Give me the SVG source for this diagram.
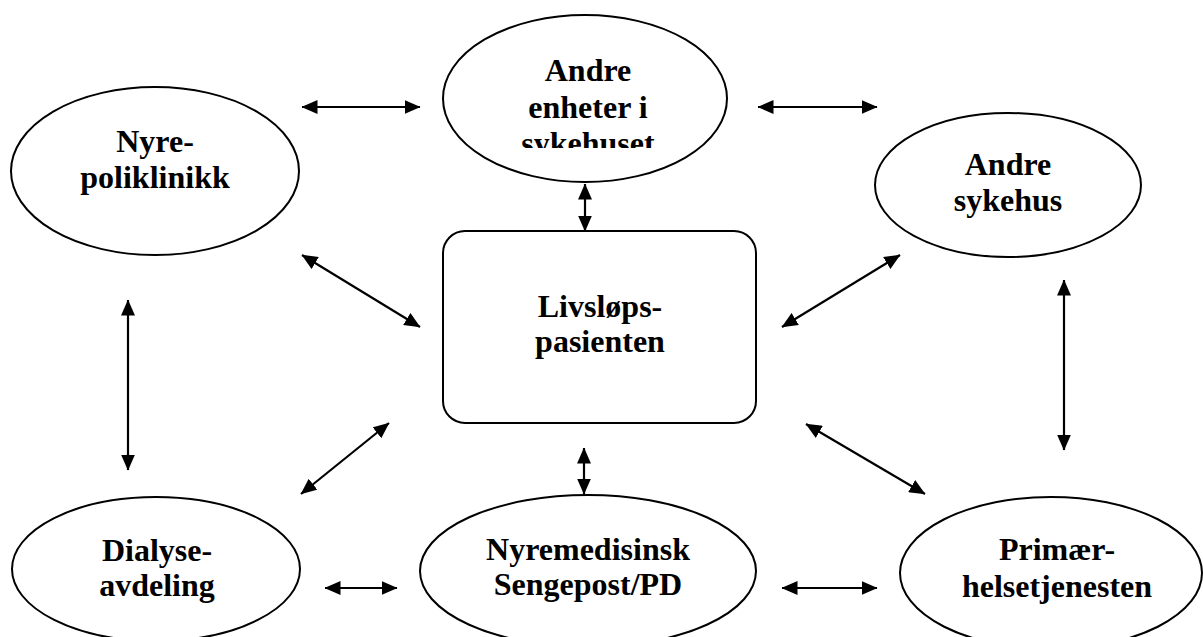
<svg xmlns="http://www.w3.org/2000/svg" width="1203" height="637" viewBox="0 0 1203 637">
<style>
.shape{fill:#fff;stroke:#000;stroke-width:2}
.lbl{font-family:"Liberation Serif","Times New Roman",serif;font-weight:bold;font-size:32px;fill:#000;text-anchor:middle}
.conn line{stroke:#000;stroke-width:2.2;marker-start:url(#ah);marker-end:url(#ah)}
</style>
<defs>
<marker id="ah" viewBox="0 0 16 14" refX="15.5" refY="7" markerWidth="16" markerHeight="14" markerUnits="userSpaceOnUse" orient="auto-start-reverse">
<path d="M0,0 L16,7 L0,14 Z" fill="#000"/>
</marker>
<clipPath id="topclip"><rect x="440" y="0" width="300" height="148"/></clipPath>
</defs>
<rect width="1203" height="637" fill="#fff"/>
<g id="andre-enheter">
<ellipse class="shape" cx="585" cy="98.5" rx="142" ry="83.5"/>
<g clip-path="url(#topclip)">
<text class="lbl" x="588" y="81">Andre</text>
<text class="lbl" x="588" y="118">enheter i</text>
<text class="lbl" x="588" y="154">sykehuset</text>
</g>
</g>
<g id="nyre-poliklinikk">
<ellipse class="shape" cx="155" cy="171" rx="144" ry="84"/>
<text class="lbl" x="155" y="152">Nyre-</text>
<text class="lbl" x="155" y="188">poliklinikk</text>
</g>
<g id="andre-sykehus">
<ellipse class="shape" cx="1008" cy="185" rx="133" ry="72"/>
<text class="lbl" x="1008" y="175">Andre</text>
<text class="lbl" x="1008" y="211">sykehus</text>
</g>
<g id="livslopspasienten">
<rect class="shape" x="443" y="231" width="313" height="192" rx="22" ry="22"/>
<text class="lbl" x="600" y="317">Livsløps-</text>
<text class="lbl" x="600" y="352">pasienten</text>
</g>
<g id="dialyse">
<ellipse class="shape" cx="156" cy="569" rx="144" ry="72"/>
<text class="lbl" x="157" y="561">Dialyse-</text>
<text class="lbl" x="157" y="596">avdeling</text>
</g>
<g id="nyremedisinsk">
<ellipse class="shape" cx="588" cy="571" rx="168" ry="76"/>
<text class="lbl" x="588" y="560">Nyremedisinsk</text>
<text class="lbl" x="588" y="595">Sengepost/PD</text>
</g>
<g id="primaer">
<ellipse class="shape" cx="1051" cy="573" rx="151" ry="76"/>
<text class="lbl" x="1057" y="560">Primær-</text>
<text class="lbl" x="1057" y="597">helsetjenesten</text>
</g>
<g id="connectors" class="conn">
<line x1="302" y1="107" x2="420" y2="107"/>
<line x1="758" y1="107" x2="877" y2="107"/>
<line x1="585" y1="184" x2="585" y2="231"/>
<line x1="302" y1="255" x2="420" y2="327"/>
<line x1="782" y1="327" x2="900" y2="255"/>
<line x1="1064" y1="280" x2="1064" y2="450"/>
<line x1="128" y1="300" x2="128" y2="470"/>
<line x1="301" y1="494" x2="389" y2="423"/>
<line x1="584" y1="448" x2="584" y2="494"/>
<line x1="806" y1="424" x2="925" y2="494"/>
<line x1="325" y1="588" x2="397" y2="588"/>
<line x1="782" y1="588" x2="877" y2="588"/>
</g>
</svg>
